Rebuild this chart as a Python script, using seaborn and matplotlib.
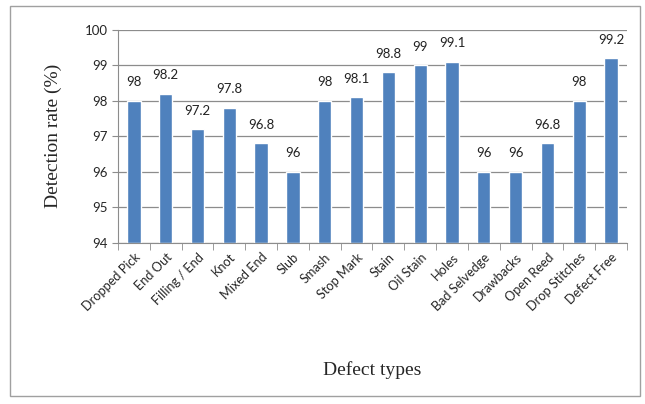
import numpy as np
import pandas as pd
import seaborn as sns
import matplotlib.pyplot as plt
from matplotlib.patches import Rectangle
from matplotlib.ticker import FixedLocator

defects = ["Dropped Pick", "End Out", "Filling / End", "Knot", "Mixed End", "Slub",
           "Smash", "Stop Mark", "Stain", "Oil Stain", "Holes", "Bad Selvedge",
           "Drawbacks", "Open Reed", "Drop Stitches", "Defect Free"]
rates = [98, 98.2, 97.2, 97.8, 96.8, 96, 98, 98.1, 98.8, 99, 99.1, 96, 96, 96.8, 98, 99.2]
rate_labels = ["98", "98.2", "97.2", "97.8", "96.8", "96", "98", "98.1", "98.8", "99",
               "99.1", "96", "96", "96.8", "98", "99.2"]

df = pd.DataFrame({"defect": defects, "rate": rates})

sns.set_style("white")
plt.rcParams['font.family'] = ['Lato', 'DejaVu Sans']

fig = plt.figure(figsize=(6.45, 4.04), dpi=100)
ax = fig.add_axes([0.183, 0.399, 0.789, 0.527])

# bars drawn from the axis floor (94) up to the value
ax = sns.barplot(data=df, x="defect", y="rate", color="#4F81BD", saturation=1,
                 width=0.42, ax=ax)
for p in ax.patches:
    h = p.get_height()
    p.set_y(94)
    p.set_height(h - 94)

ax.set_ylim(94, 100)
ax.set_xlim(-0.5, len(defects) - 0.5)
ax.set_yticks(np.arange(94, 101, 1))
ax.yaxis.grid(True, color="#8c8c8c", linewidth=0.9)
ax.set_axisbelow(True)

for i, (r, t) in enumerate(zip(rates, rate_labels)):
    ax.annotate(t, (i, r), xytext=(0, 9), textcoords="offset points",
                ha="center", va="bottom", fontsize=9.5, color="#222222")

ax.set_xticks(range(len(defects)))
ax.set_xticklabels(defects, rotation=45, ha="right", rotation_mode="anchor", fontsize=9.2)
ax.tick_params(axis="x", which="major", length=0, pad=6)
ax.xaxis.set_minor_locator(FixedLocator(np.arange(-0.5, len(defects), 1)))
ax.tick_params(axis="x", which="minor", length=5, color="#8c8c8c", bottom=True)
ax.tick_params(axis="y", length=4, color="#8c8c8c", left=True, labelsize=9.5)

for s in ["top", "right"]:
    ax.spines[s].set_visible(False)
for s in ["left", "bottom"]:
    ax.spines[s].set_color("#8c8c8c")

ax.set_ylabel("Detection rate (%)", family="Liberation Serif", fontsize=14, labelpad=16)
ax.set_xlabel("Defect types", family="Liberation Serif", fontsize=14, labelpad=34)

fig.patches.append(Rectangle((0.016, 0.02), 0.976, 0.965, transform=fig.transFigure,
                             fill=False, edgecolor="#a0a0a0", linewidth=1))

fig.savefig("out.png", dpi=100)
